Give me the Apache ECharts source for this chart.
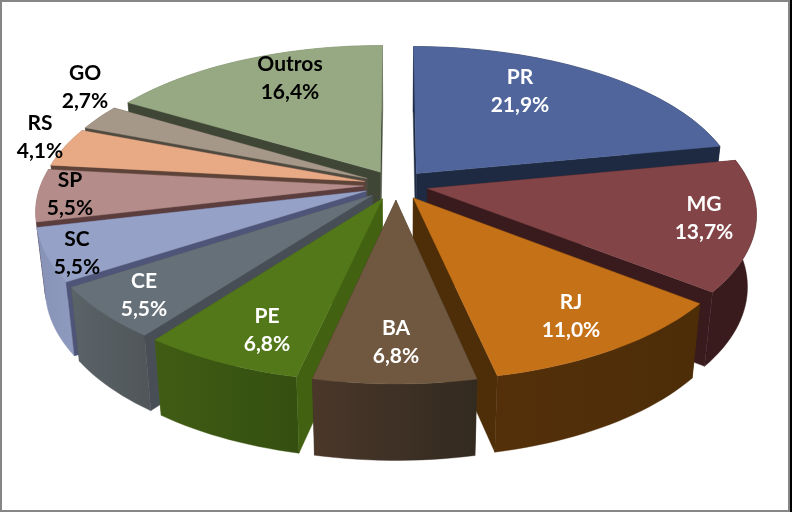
<!DOCTYPE html>
<html><head><meta charset="utf-8">
<style>html,body{margin:0;padding:0;background:#fff}#c{width:792px;height:512px}</style>
<script src="https://cdn.jsdelivr.net/npm/echarts@6/dist/echarts.min.js"></script>
</head><body><div id="c"></div>
<script>
const categories = ['PR','MG','RJ','BA','PE','CE','SC','SP','RS','GO','Outros'];
const shares = [21.9,13.7,11.0,6.8,6.8,5.5,5.5,5.5,4.1,2.7,16.4];

// Styles and layout, kept apart from the data
const topColors  = ['#50659B','#824446','#C57118','#705840','#53781A','#667078','#95A1C6','#B48C8A','#E8A985','#A69888','#97A983'];
const sideColors = ['#1E2A42','#391B1E','#4E2E08','#3B2D22','#436211','#484E55','#4E5578','#5A3D3C','#5E4438','#4F4A40','#3F4635'];
const rimLeft    = ['#1E2A42','#391B1E','#54300A','#4A372A','#405C14','#5A6368','#8792B6','#8B6A68','#A87A5F','#7C7064','#6E7B5E'];
const rimRight   = ['#1E2A42','#391B1E','#4C2D08','#332A20','#344F10','#505659','#8F9AC0','#8B6A68','#A87A5F','#7C7064','#6E7B5E'];
const labelColors= ['#fff','#fff','#fff','#fff','#fff','#fff','#000','#000','#000','#000','#000'];
const labelCenters = [[520,91],[704,218],[571,316],[396,342],[267,330],[144,295],[77,253],[70,194],[40,137],[85,87],[290,78]];

const CX=396, CY=185, R=323, S=150, K=0.155, EXPLODE=0.1, LOWER_X=0.975;
const project=(X,Y,drop)=>{
  const f=1/(1+K*Y);
  const x=R*X*f;
  return drop ? [CX+x*LOWER_X, CY-S*Y*f+(71-5*Y)] : [CX+x, CY-S*Y*f];
};
const total=shares.reduce((a,b)=>a+b,0);
let acc=0;
const slices=shares.map((v,i)=>{
  const t0=acc/total*2*Math.PI; acc+=v; const t1=acc/total*2*Math.PI;
  return {i,t0,t1,mid:(t0+t1)/2};
});
const drawOrder=slices.slice().sort((a,b)=>Math.cos(b.mid)-Math.cos(a.mid));

function renderItem(params,api){
  const s=drawOrder[params.dataIndex], i=s.i;
  const ax=EXPLODE*Math.sin(s.mid), ay=EXPLODE*Math.cos(s.mid);
  const arc=[], arcLow=[];
  const n=Math.max(6,Math.ceil((s.t1-s.t0)/0.03));
  for(let k=0;k<=n;k++){
    const t=s.t0+(s.t1-s.t0)*k/n;
    const X=ax+Math.sin(t),Y=ay+Math.cos(t);
    arc.push(project(X,Y,false)); arcLow.push(project(X,Y,true));
  }
  const A=project(ax,ay,false), B=project(ax,ay,true);
  const poly=(pts,fill)=>({type:'polygon',shape:{points:pts},style:{fill:fill,stroke:fill,lineWidth:0.4}});
  const wall=(p,q)=>poly([A,p,q,B],sideColors[i]);
  const rim=poly(arc.concat(arcLow.slice().reverse()),{type:'linear',x:0,y:0,x2:1,y2:0,colorStops:[{offset:0,color:rimLeft[i]},{offset:1,color:rimRight[i]}]});
  const wStart=wall(arc[0],arcLow[0]), wEnd=wall(arc[n],arcLow[n]);
  // faces turned away from the viewer go first
  const startFront=Math.sin(s.t0)<0, endFront=Math.sin(s.t1)>0;
  const kids=[];
  if(!startFront) kids.push(wStart);
  if(!endFront) kids.push(wEnd);
  kids.push(rim);
  if(startFront) kids.push(wStart);
  if(endFront) kids.push(wEnd);
  kids.push(poly([A].concat(arc),topColors[i]));
  const v=api.value(0);
  kids.push({type:'text',z2:20,style:{
    x:labelCenters[i][0],y:labelCenters[i][1],align:'center',verticalAlign:'middle',
    text:categories[i]+'\n'+v.toFixed(1).replace('.',',')+'%',
    font:'bold 21px Lato',lineHeight:28,fill:labelColors[i]}});
  return {type:'group',children:kids};
}

const chart=echarts.init(document.getElementById('c'),null,{renderer:'canvas'});
chart.setOption({
  animation:false,
  backgroundColor:'#fff',
  graphic:[
    {type:'rect',shape:{x:1,y:1,width:788,height:510},style:{fill:'none',stroke:'#868686',lineWidth:2},z:100,silent:true},
    {type:'rect',shape:{x:790,y:0,width:2,height:512},style:{fill:'#000'},z:100,silent:true}
  ],
  series:[{type:'custom',coordinateSystem:'none',renderItem:renderItem,
    data:drawOrder.map(s=>({name:categories[s.i],value:[shares[s.i]]}))}]
});
</script></body></html>
